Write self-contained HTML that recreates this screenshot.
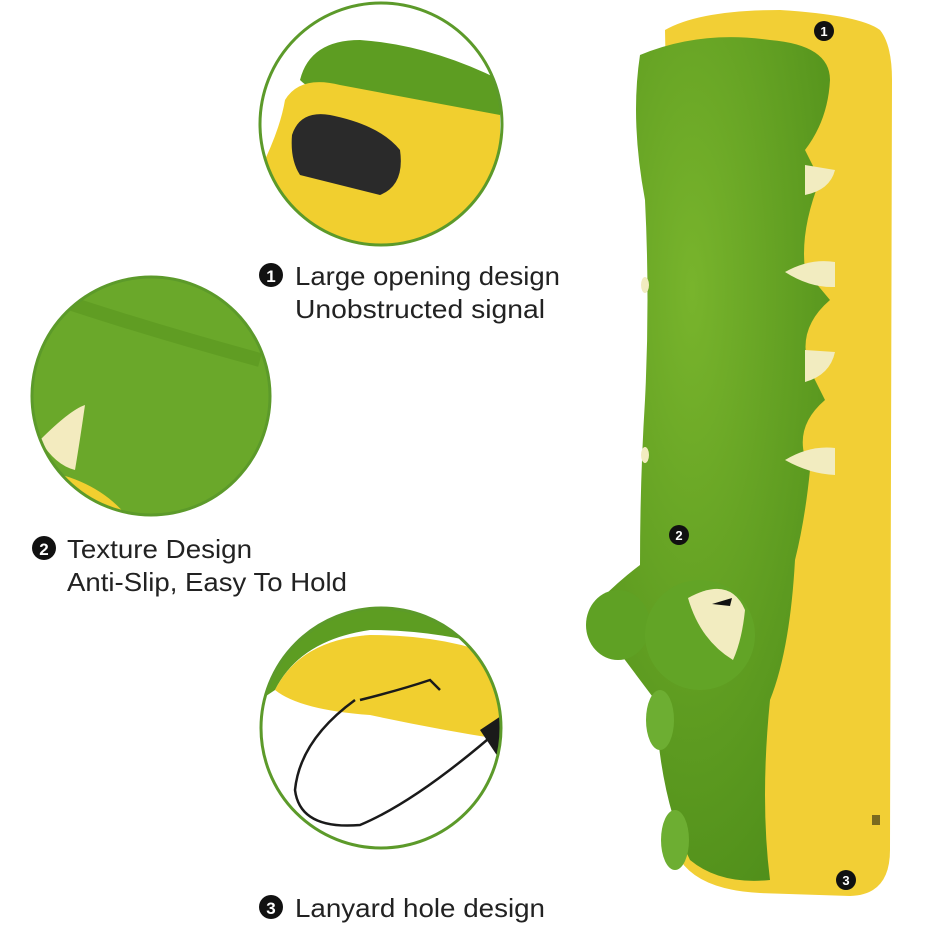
<!DOCTYPE html>
<html><head><meta charset="utf-8"><style>
html,body{margin:0;padding:0;background:#fff;}
svg{display:block}
text{font-family:"Liberation Sans","DejaVu Sans",sans-serif;fill:#222;}
</style></head><body>
<svg width="925" height="925" viewBox="0 0 925 925" xmlns="http://www.w3.org/2000/svg">
<defs>
<clipPath id="c1"><circle cx="381" cy="124" r="121"/></clipPath>
<clipPath id="c2"><circle cx="151" cy="396" r="119"/></clipPath>
<clipPath id="c3"><circle cx="381" cy="728" r="120"/></clipPath>
<radialGradient id="gr" cx="0.4" cy="0.3" r="0.8"><stop offset="0" stop-color="#78b42c"/><stop offset="1" stop-color="#4f8e1a"/></radialGradient>
</defs>
<!-- circle 1 -->
<g clip-path="url(#c1)">
<rect x="250" y="0" width="260" height="260" fill="#fff"/>
<path d="M300 80 Q310 40 360 40 Q430 45 500 80 L500 120 Q430 115 380 105 Q320 100 300 80Z" fill="#5d9d22"/>
<path d="M285 100 Q300 75 340 85 Q420 100 500 115 L500 250 L260 250 L260 170 Q280 130 285 100Z" fill="#f1cf2f"/>
<path d="M292 135 Q300 110 330 115 Q380 125 400 150 Q405 185 380 195 L300 175 Q290 160 292 135Z" fill="#2a2a2a"/>
</g>
<circle cx="381" cy="124" r="121" fill="none" stroke="#5c9a2a" stroke-width="3"/>
<!-- circle 2 -->
<g clip-path="url(#c2)">
<rect x="30" y="275" width="245" height="245" fill="#6aa82a"/>
<path d="M60 300 Q150 330 260 360" stroke="#5a961f" stroke-width="14" fill="none" opacity="0.6"/>
<path d="M40 470 Q100 480 130 520 L30 520Z" fill="#f1cf2f"/>
<path d="M40 440 Q70 410 85 405 Q80 440 75 470 Q55 465 40 440Z" fill="#f3ebbf"/>
</g>
<circle cx="151" cy="396" r="119" fill="none" stroke="#5c9a2a" stroke-width="3"/>
<!-- circle 3 -->
<g clip-path="url(#c3)">
<rect x="255" y="600" width="260" height="260" fill="#fff"/>
<path d="M260 600 L505 600 L505 650 Q440 630 370 630 Q300 640 275 690 L260 700Z" fill="#5d9d22"/>
<path d="M275 690 Q300 640 370 635 Q450 635 505 660 L505 740 Q440 730 370 715 Q300 710 275 690Z" fill="#f1cf2f"/>
<path d="M355 700 Q300 740 295 790 Q300 830 360 825 Q420 800 510 720" stroke="#1a1a1a" stroke-width="2.5" fill="none"/>
<path d="M360 700 Q400 690 430 680 L440 690" stroke="#1a1a1a" stroke-width="2.5" fill="none"/>
<path d="M480 730 L510 710 L520 740 L500 760Z" fill="#1a1a1a"/>
</g>
<circle cx="381" cy="728" r="120" fill="none" stroke="#5c9a2a" stroke-width="3"/>
<!-- labels -->
<circle cx="271" cy="275" r="12" fill="#111"/><text x="271" y="282" font-size="17" font-weight="bold" text-anchor="middle" style="fill:#fff">1</text>
<text x="295" y="285" font-size="26" textLength="265" lengthAdjust="spacingAndGlyphs">Large opening design</text>
<text x="295" y="318" font-size="26" textLength="250" lengthAdjust="spacingAndGlyphs">Unobstructed signal</text>
<circle cx="44" cy="548" r="12" fill="#111"/><text x="44" y="555" font-size="17" font-weight="bold" text-anchor="middle" style="fill:#fff">2</text>
<text x="67" y="558" font-size="26" textLength="185" lengthAdjust="spacingAndGlyphs">Texture Design</text>
<text x="67" y="591" font-size="26" textLength="280" lengthAdjust="spacingAndGlyphs">Anti-Slip, Easy To Hold</text>
<circle cx="271" cy="907" r="12" fill="#111"/><text x="271" y="914" font-size="17" font-weight="bold" text-anchor="middle" style="fill:#fff">3</text>
<text x="295" y="917" font-size="26" textLength="250" lengthAdjust="spacingAndGlyphs">Lanyard hole design</text>
<!-- remote -->
<path d="M665 30 Q700 10 780 10 Q860 15 880 30 Q892 45 892 80 L890 850 Q890 895 850 896 L760 893 Q700 890 680 860 Z" fill="#f2cf35"/>
<path d="M640 55 Q700 30 770 40 Q830 45 830 80 Q828 120 805 150 L820 180 Q800 230 805 270 L830 300 Q795 330 810 370 L825 400 Q790 430 810 470 Q805 520 795 560 Q790 650 770 700 Q760 800 770 880 Q720 885 690 860 Q660 800 655 700 L610 640 L600 600 Q620 580 640 565 Q640 480 645 400 Q650 300 645 200 Q630 120 640 55Z" fill="url(#gr)"/>
<path d="M805 165 L835 170 Q830 190 805 195Z" fill="#f2ecc0"/>
<path d="M785 272 Q810 258 835 262 L835 287 Q810 288 785 272Z" fill="#f2ecc0"/>
<path d="M805 350 L835 352 Q830 375 805 382Z" fill="#f2ecc0"/>
<path d="M785 460 Q810 445 835 448 L835 475 Q810 474 785 460Z" fill="#f2ecc0"/>
<ellipse cx="645" cy="285" rx="4" ry="8" fill="#f2ecc0"/>
<ellipse cx="645" cy="455" rx="4" ry="8" fill="#f2ecc0"/>
<ellipse cx="618" cy="625" rx="32" ry="35" fill="#5fa124"/>
<ellipse cx="700" cy="635" rx="55" ry="55" fill="#62a426"/>
<path d="M688 598 Q730 575 745 610 Q742 640 733 660 Q700 640 688 598Z" fill="#f2ecc0"/>
<path d="M712 604 L732 598 L730 606Z" fill="#111"/>
<ellipse cx="660" cy="720" rx="14" ry="30" fill="#6dae32"/>
<ellipse cx="675" cy="840" rx="14" ry="30" fill="#6dae32"/>
<rect x="872" y="815" width="8" height="10" fill="#7a6a20"/>
<circle cx="824" cy="31" r="10" fill="#111"/><text x="824" y="36" font-size="13" font-weight="bold" text-anchor="middle" style="fill:#fff">1</text>
<circle cx="679" cy="535" r="10" fill="#111"/><text x="679" y="540" font-size="13" font-weight="bold" text-anchor="middle" style="fill:#fff">2</text>
<circle cx="846" cy="880" r="10" fill="#111"/><text x="846" y="885" font-size="13" font-weight="bold" text-anchor="middle" style="fill:#fff">3</text>
</svg>
</body></html>
